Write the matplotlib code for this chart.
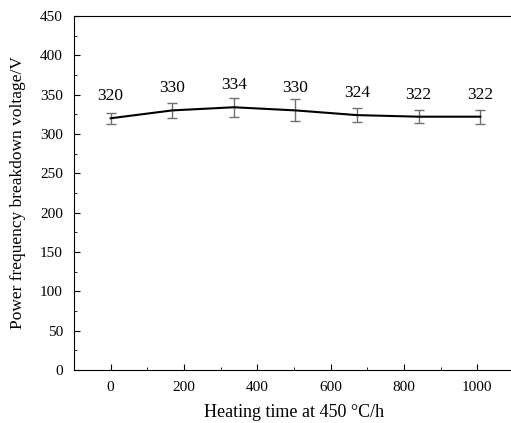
import matplotlib.pyplot as plt
from matplotlib.ticker import MultipleLocator

plt.rcParams['font.family'] = ['Liberation Serif', 'DejaVu Serif']

hours = [0, 168, 336, 504, 672, 840, 1008]
voltage = [320, 330, 334, 330, 324, 322, 322]
err = [7, 10, 12, 14, 9, 8, 9]
labels = ['320', '330', '334', '330', '324', '322', '322']


def main():
    fig = plt.figure(figsize=(5.11, 4.23), dpi=100)
    ax = fig.add_axes([74 / 511, 53 / 423, 440 / 511, 354 / 423])

    ax.errorbar(hours, voltage, yerr=err, color='black', lw=1.5,
                ecolor='#707070', elinewidth=1.0, capsize=3.5, capthick=1.0)
    for x, y, t in zip(hours, voltage, labels):
        ax.text(x, y + 18, t, ha='center', va='bottom', fontsize=12.5)

    ax.set_xlim(-100, 1100)
    ax.set_ylim(0, 450)
    ax.xaxis.set_major_locator(MultipleLocator(200))
    ax.xaxis.set_minor_locator(MultipleLocator(100))
    ax.yaxis.set_major_locator(MultipleLocator(50))
    ax.yaxis.set_minor_locator(MultipleLocator(25))
    ax.tick_params(which='both', direction='in', labelsize=11)
    ax.tick_params(which='major', length=4.5)
    ax.tick_params(which='minor', length=2.5)
    ax.tick_params(axis='x', pad=8)
    ax.tick_params(axis='y', pad=8)

    ax.set_xlabel('Heating time at 450 °C/h', fontsize=13, labelpad=7)
    ax.set_ylabel('Power frequency breakdown voltage/V', fontsize=12.5, labelpad=10)

    fig.savefig('out.png', dpi=100)


if __name__ == '__main__':
    main()
